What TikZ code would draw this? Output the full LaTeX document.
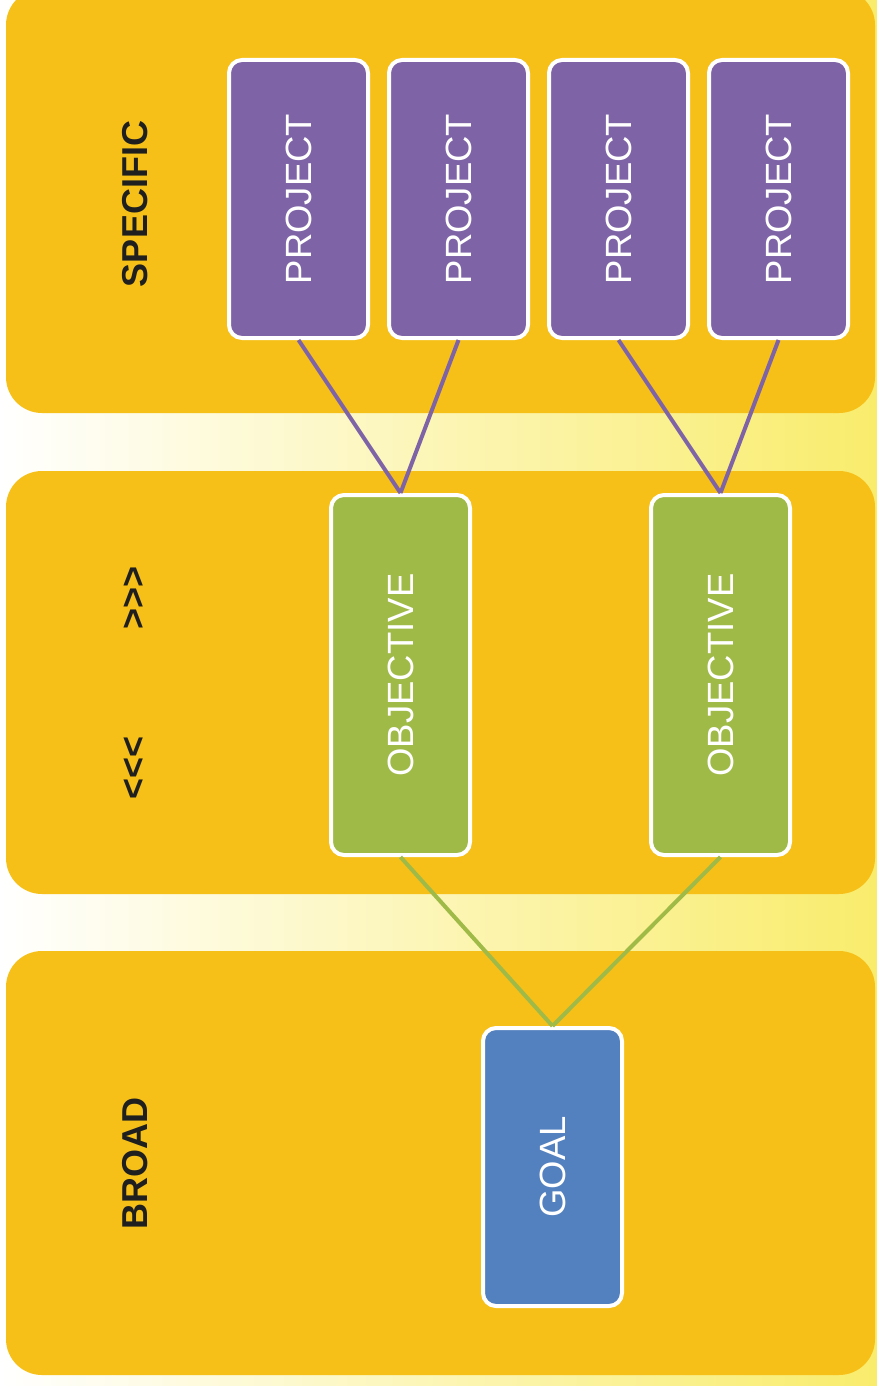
\documentclass[tikz,border=0pt]{standalone}
\usepackage{fontspec}
\setmainfont{Liberation Sans}
\definecolor{panelc}{HTML}{F6C018}
\definecolor{bgyel}{HTML}{F9EC6C}
\definecolor{projc}{HTML}{7E63A6}
\definecolor{objc}{HTML}{A0BA48}
\definecolor{goalc}{HTML}{5381BF}
\tikzset{
  panel/.style={fill=panelc, draw=none, rounded corners=36pt, minimum width=869pt, inner sep=0pt},
  box/.style={draw=white, line width=4pt, rounded corners=13pt, text=white, inner sep=0pt,
    minimum width=139pt, font=\fontsize{36.5}{40}\selectfont},
  projbox/.style={box, fill=projc, minimum height=278pt},
  objbox/.style={box, fill=objc, minimum height=360pt},
  goalbox/.style={box, fill=goalc, minimum height=278pt},
  side/.style={text=black!88, font=\fontsize{36}{40}\selectfont\bfseries, inner sep=0pt},
  plink/.style={draw=projc, line width=4pt},
  glink/.style={draw=objc, line width=4pt}
}
\begin{document}
\begin{tikzpicture}[x=1pt,y=-1pt]
\useasboundingbox (0,0) rectangle (877,1386);
\shade[left color=white, right color=bgyel] (0,0) rectangle (877,1386);
% panels
\node[panel, minimum height=424pt] (pan1) at (440.5,201) {};
\node[panel, minimum height=423pt] (pan2) at (440.5,682.5) {};
\node[panel, minimum height=424pt] (pan3) at (440.5,1163) {};
% side labels
\node[side] (lspec) at (135,204) {\rotatebox{90}{SPECIFIC}};
\node[side] (lup) at (135,598) {\rotatebox{90}{>{}>{}>}};
\node[side] (ldown) at (135,768) {\rotatebox{90}{<{}<{}<}};
\node[side] (lbroad) at (135,1163) {\rotatebox{90}{BROAD}};
% boxes
\node[projbox] (p1) at (298.5,199) {\rotatebox{90}{PROJECT}};
\node[projbox] (p2) at (458.5,199) {\rotatebox{90}{PROJECT}};
\node[projbox] (p3) at (618.5,199) {\rotatebox{90}{PROJECT}};
\node[projbox] (p4) at (778.5,199) {\rotatebox{90}{PROJECT}};
\node[objbox] (o1) at (400.5,675) {\rotatebox{90}{OBJECTIVE}};
\node[objbox] (o2) at (720.5,675) {\rotatebox{90}{OBJECTIVE}};
\node[goalbox] (g) at (552.5,1167) {\rotatebox{90}{GOAL}};
% links
\draw[plink] (p1.south) -- (o1.north);
\draw[plink] (p2.south) -- (o1.north);
\draw[plink] (p3.south) -- (o2.north);
\draw[plink] (p4.south) -- (o2.north);
\draw[glink] (o1.south) -- (g.north);
\draw[glink] (o2.south) -- (g.north);
\end{tikzpicture}
\end{document}
